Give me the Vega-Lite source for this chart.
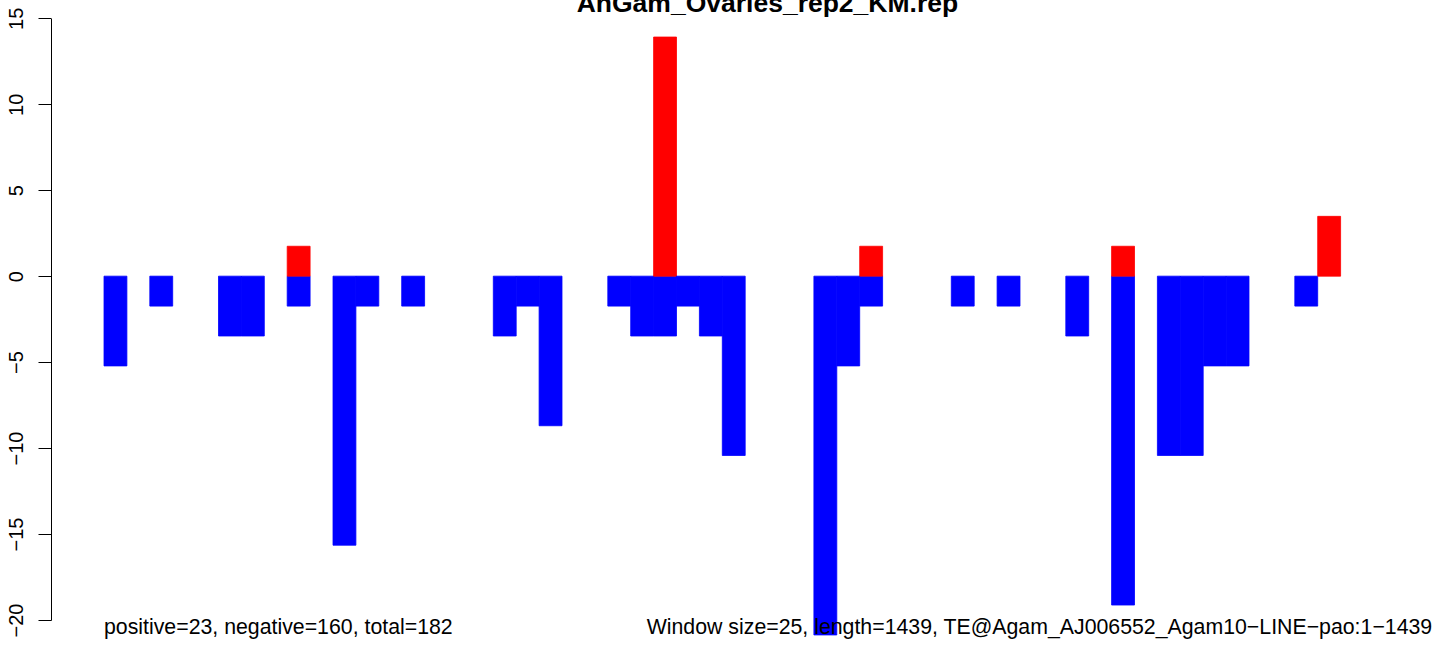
{
  "$schema": "https://vega.github.io/schema/vega-lite/v6.json",
  "width": 1444,
  "height": 646,
  "autosize": {"type": "none"},
  "padding": 0,
  "background": "white",
  "config": {"view": {"stroke": null}, "font": "Liberation Sans"},
  "layer": [
    {
      "data": {
        "values": [
          {"start": 0, "end": 1, "value": -5.22, "strand": "neg"},
          {"start": 2, "end": 3, "value": -1.74, "strand": "neg"},
          {"start": 5, "end": 6, "value": -3.48, "strand": "neg"},
          {"start": 6, "end": 7, "value": -3.48, "strand": "neg"},
          {"start": 8, "end": 9, "value": -1.74, "strand": "neg"},
          {"start": 8, "end": 9, "value": 1.74, "strand": "pos"},
          {"start": 10, "end": 11, "value": -15.65, "strand": "neg"},
          {"start": 11, "end": 12, "value": -1.74, "strand": "neg"},
          {"start": 13, "end": 14, "value": -1.74, "strand": "neg"},
          {"start": 17, "end": 18, "value": -3.48, "strand": "neg"},
          {"start": 18, "end": 19, "value": -1.74, "strand": "neg"},
          {"start": 19, "end": 20, "value": -8.7, "strand": "neg"},
          {"start": 22, "end": 23, "value": -1.74, "strand": "neg"},
          {"start": 23, "end": 24, "value": -3.48, "strand": "neg"},
          {"start": 24, "end": 25, "value": -3.48, "strand": "neg"},
          {"start": 24, "end": 25, "value": 13.91, "strand": "pos"},
          {"start": 25, "end": 26, "value": -1.74, "strand": "neg"},
          {"start": 26, "end": 27, "value": -3.48, "strand": "neg"},
          {"start": 27, "end": 28, "value": -10.43, "strand": "neg"},
          {"start": 31, "end": 32, "value": -20.87, "strand": "neg"},
          {"start": 32, "end": 33, "value": -5.22, "strand": "neg"},
          {"start": 33, "end": 34, "value": -1.74, "strand": "neg"},
          {"start": 33, "end": 34, "value": 1.74, "strand": "pos"},
          {"start": 37, "end": 38, "value": -1.74, "strand": "neg"},
          {"start": 39, "end": 40, "value": -1.74, "strand": "neg"},
          {"start": 42, "end": 43, "value": -3.48, "strand": "neg"},
          {"start": 44, "end": 45, "value": -19.13, "strand": "neg"},
          {"start": 44, "end": 45, "value": 1.74, "strand": "pos"},
          {"start": 46, "end": 47, "value": -10.43, "strand": "neg"},
          {"start": 47, "end": 48, "value": -10.43, "strand": "neg"},
          {"start": 48, "end": 49, "value": -5.22, "strand": "neg"},
          {"start": 49, "end": 50, "value": -5.22, "strand": "neg"},
          {"start": 52, "end": 53, "value": -1.74, "strand": "neg"},
          {"start": 53, "end": 54, "value": 3.48, "strand": "pos"}
        ]
      },
      "mark": {"type": "bar", "strokeWidth": 0.8, "clip": false},
      "encoding": {
        "x": {
          "field": "start",
          "type": "quantitative",
          "scale": {"domain": [0, 58], "range": [104, 1432.2], "nice": false, "zero": false},
          "axis": null
        },
        "x2": {"field": "end"},
        "y": {
          "field": "value",
          "type": "quantitative",
          "scale": {"domain": [-20, 15], "range": [620, 18.3], "nice": false, "zero": false},
          "axis": {
            "values": [-20, -15, -10, -5, 0, 5, 10, 15],
            "offset": -51,
            "grid": false,
            "title": null,
            "domainColor": "black",
            "domainWidth": 1,
            "tickColor": "black",
            "tickWidth": 1,
            "tickSize": 13,
            "labelAngle": -90,
            "labelAlign": "center",
            "labelBaseline": "alphabetic",
            "labelPadding": 16,
            "labelFont": "Liberation Sans",
            "labelFontSize": 20,
            "labelColor": "black",
            "labelOverlap": false,
            "labelFlush": false,
            "labelBound": false
          }
        },
        "y2": {"datum": 0},
        "color": {
          "field": "strand",
          "type": "nominal",
          "scale": {"domain": ["pos", "neg"], "range": ["#FF0000", "#0000FF"]},
          "legend": null
        },
        "stroke": {
          "field": "strand",
          "type": "nominal",
          "scale": {"domain": ["pos", "neg"], "range": ["#FF0000", "#0000FF"]},
          "legend": null
        }
      }
    },
    {
      "mark": {"type": "rule", "color": "#9a9a9a", "strokeWidth": 1.5},
      "encoding": {
        "x": {"datum": 0, "type": "quantitative", "scale": {"domain": [0, 58], "range": [104, 1432.2], "nice": false, "zero": false}},
        "x2": {"datum": 58},
        "y": {"datum": 0, "type": "quantitative", "scale": {"domain": [-20, 15], "range": [620, 18.3], "nice": false, "zero": false}}
      }
    },
    {
      "data": {"values": [{"label": "AnGam_Ovaries_rep2_KM.rep"}]},
      "mark": {"type": "text", "align": "center", "baseline": "alphabetic", "font": "Liberation Sans", "fontSize": 26.5, "fontWeight": "bold", "color": "black", "clip": false},
      "encoding": {
        "x": {"datum": 28.97, "type": "quantitative", "scale": {"domain": [0, 58], "range": [104, 1432.2], "nice": false, "zero": false}},
        "y": {"datum": 15.34, "type": "quantitative", "scale": {"domain": [-20, 15], "range": [620, 18.3], "nice": false, "zero": false}},
        "text": {"field": "label", "type": "nominal"}
      }
    },
    {
      "data": {"values": [{"label": "positive=23, negative=160, total=182"}]},
      "mark": {"type": "text", "align": "left", "baseline": "alphabetic", "font": "Liberation Sans", "fontSize": 21.3, "color": "black", "clip": false},
      "encoding": {
        "x": {"datum": 0, "type": "quantitative", "scale": {"domain": [0, 58], "range": [104, 1432.2], "nice": false, "zero": false}},
        "y": {"datum": -20.8, "type": "quantitative", "scale": {"domain": [-20, 15], "range": [620, 18.3], "nice": false, "zero": false}},
        "text": {"field": "label", "type": "nominal"}
      }
    },
    {
      "data": {"values": [{"label": "Window size=25, length=1439, TE@Agam_AJ006552_Agam10−LINE−pao:1−1439"}]},
      "mark": {"type": "text", "align": "right", "baseline": "alphabetic", "font": "Liberation Sans", "fontSize": 21.3, "color": "black", "clip": false},
      "encoding": {
        "x": {"datum": 58, "type": "quantitative", "scale": {"domain": [0, 58], "range": [104, 1432.2], "nice": false, "zero": false}},
        "y": {"datum": -20.8, "type": "quantitative", "scale": {"domain": [-20, 15], "range": [620, 18.3], "nice": false, "zero": false}},
        "text": {"field": "label", "type": "nominal"}
      }
    }
  ]
}
